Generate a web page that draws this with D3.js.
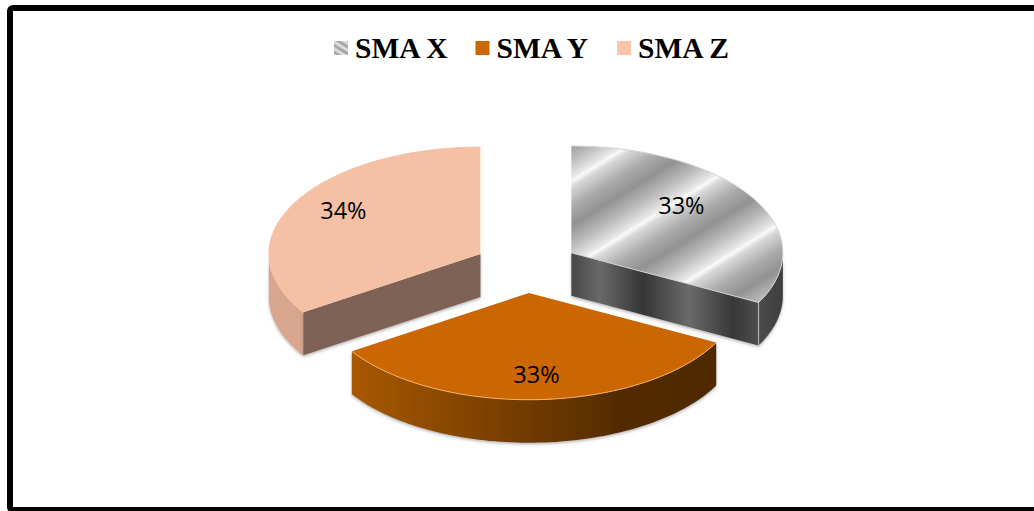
<!DOCTYPE html>
<html><head><meta charset="utf-8">
<script src="https://cdn.jsdelivr.net/npm/d3@7"></script>
<style>html,body{margin:0;padding:0;background:#fff;overflow:hidden}svg{display:block}</style>
</head><body>
<script>
const categories = ["SMA X", "SMA Y", "SMA Z"];
const values = [32.7, 33.1, 34.2];
const labels = ["33%", "33%", "34%"];
const W = 1034, H = 511;
const cx = 526.5, cy = 266.5, rx = 211.5, squash = 0.505, depth = 43, explode = 52.4;

const svg = d3.select("body").append("svg").attr("width", W).attr("height", H);
const defs = svg.append("defs");

function linGrad(id, x1, y1, x2, y2, stops, spread) {
  const g = defs.append("linearGradient").attr("id", id).attr("gradientUnits", "userSpaceOnUse")
    .attr("x1", x1).attr("y1", y1).attr("x2", x2).attr("y2", y2).attr("spreadMethod", spread || "pad");
  stops.forEach(s => g.append("stop").attr("offset", s[0]).attr("stop-color", s[1]));
}
const metal = [[0, "#fafafa"], [0.07, "#d8d8d8"], [0.3, "#aaaaaa"], [0.52, "#929292"], [0.78, "#c0c0c0"], [0.96, "#e8e8e8"], [1, "#fafafa"]];
linGrad("metalTop", 628, 232, 666.6, 294, metal, "repeat");
linGrad("metalWall", 571, 0, 761, 0, [[0, "#474747"], [0.15, "#696969"], [0.38, "#363636"], [0.62, "#6a6a6a"], [0.85, "#383838"], [1, "#505050"]]);
linGrad("metalSide", 761, 0, 785, 0, [[0, "#4a4a4a"], [1, "#3c3c3c"]]);
linGrad("orangeWall", 352, 0, 718, 0, [[0, "#a85900"], [0.45, "#743c00"], [0.75, "#522a00"], [1, "#4f2900"]]);
linGrad("swatch", 336, 50, 339, 45, [[0, "#e8e8e8"], [0.5, "#9a9a9a"], [1, "#e8e8e8"]], "repeat");

const shadow = defs.append("filter").attr("id", "sh").attr("x", "-10%").attr("y", "-10%").attr("width", "120%").attr("height", "120%");
shadow.append("feDropShadow").attr("dx", 0).attr("dy", 1.5).attr("stdDeviation", 1.4).attr("flood-color", "#666").attr("flood-opacity", 0.5);
const blur = defs.append("filter").attr("id", "bl").attr("x", "-300%").attr("y", "-10%").attr("width", "700%").attr("height", "120%");
blur.append("feGaussianBlur").attr("stdDeviation", 1.1);

const topFill = ["url(#metalTop)", "#cc6600", "#f5c0a4"];
const swatchFill = ["url(#swatch)", "#cc6600", "#fdc3a8"];
const rimColor = ["#d4d4d4", "#f0b26e", "#f5c0a4"];
const cutFill = ["url(#metalWall)", null, "#7e6254"];
const sideFill = ["url(#metalSide)", "url(#orangeWall)", "#d8a68e"];
const labelSpan = [0.42, 0.5, 0.53];
const labelRadius = [0.685, 0.757, 0.765];

// frame
svg.append("rect").attr("x", 10).attr("y", 8).attr("width", 1040).attr("height", 502).attr("rx", 3)
  .attr("fill", "#fff").attr("stroke", "#000").attr("stroke-width", 6);

const pie = d3.pie().sort(null).value(d => d);
const arcs = pie(values);
const line = d3.line();

arcs.forEach((a, i) => {
  const mid = (a.startAngle + a.endAngle) / 2;
  const ox = cx + explode * Math.sin(mid), oy = cy - explode * Math.cos(mid) * squash;
  const pt = (ang, r, z) => [ox + r * Math.sin(ang), oy - r * Math.cos(ang) * squash + (z || 0)];
  const rim = (a0, a1, z) => d3.range(0, 81).map(k => pt(a0 + (a1 - a0) * k / 80, rx, z));
  const g = svg.append("g").attr("class", "slice");

  // blurred shadow of the hidden back wall at the vertical cut
  if (i !== 1) {
    const back = i === 0 ? a.startAngle : a.endAngle;
    g.append("path").attr("d", line([pt(back, rx, depth), pt(back, 0, depth)]))
      .attr("stroke", "#777").attr("stroke-width", 2.5).attr("fill", "none").attr("filter", "url(#bl)");
  }
  // outer curved wall: only the part turned toward the viewer
  const v0 = Math.max(a.startAngle, Math.PI / 2), v1 = Math.min(a.endAngle, 3 * Math.PI / 2);
  if (v1 > v0) {
    g.append("path").attr("d", line(rim(v0, v1, 0).concat(rim(v0, v1, depth).reverse())) + "Z")
      .attr("fill", sideFill[i]).attr("filter", "url(#sh)");
  }
  // straight cut wall
  if (cutFill[i]) {
    const edge = i === 0 ? a.endAngle : a.startAngle;
    const e = pt(edge, rx), e2 = pt(edge, rx, depth), c = pt(0, 0), c2 = pt(0, 0, depth);
    g.append("path").attr("d", line([c, e, e2, c2]) + "Z").attr("fill", cutFill[i]).attr("filter", "url(#sh)");
    if (i === 0) g.append("path").attr("d", line([e, e2])).attr("stroke", "#bbb").attr("stroke-width", 1);
  }
  // top face
  g.append("path").attr("d", line([pt(0, 0)].concat(rim(a.startAngle, a.endAngle))) + "Z").attr("fill", topFill[i]);
  g.append("path").attr("d", line(rim(a.startAngle, a.endAngle))).attr("fill", "none")
    .attr("stroke", rimColor[i]).attr("stroke-width", 1);
  if (i === 0) g.append("path").attr("d", line([pt(0, 0), pt(a.endAngle, rx)])).attr("stroke", "#d0d0d0").attr("stroke-width", 1);

  // data label
  const la = a.startAngle + (a.endAngle - a.startAngle) * labelSpan[i];
  const lp = pt(la, rx * labelRadius[i]);
  g.append("text").attr("x", lp[0]).attr("y", lp[1]).attr("text-anchor", "middle").attr("dominant-baseline", "central")
    .attr("font-family", "'Open Sans', sans-serif").attr("font-size", 23.5).attr("fill", "#000").text(labels[i]);
});

// legend
const legendX = d3.scalePoint().domain(categories).range([334, 617]);
const legend = svg.append("g").selectAll("g").data(categories).join("g");
legend.append("rect").attr("x", d => legendX(d)).attr("y", 41).attr("width", 14).attr("height", 14)
  .attr("fill", (d, i) => swatchFill[i]);
legend.append("text").attr("x", d => legendX(d) + 21).attr("y", 58)
  .attr("font-family", "'Liberation Serif', serif").attr("font-weight", "bold").attr("font-size", 29.5)
  .attr("fill", "#000").text(d => d);
</script>
</body></html>
